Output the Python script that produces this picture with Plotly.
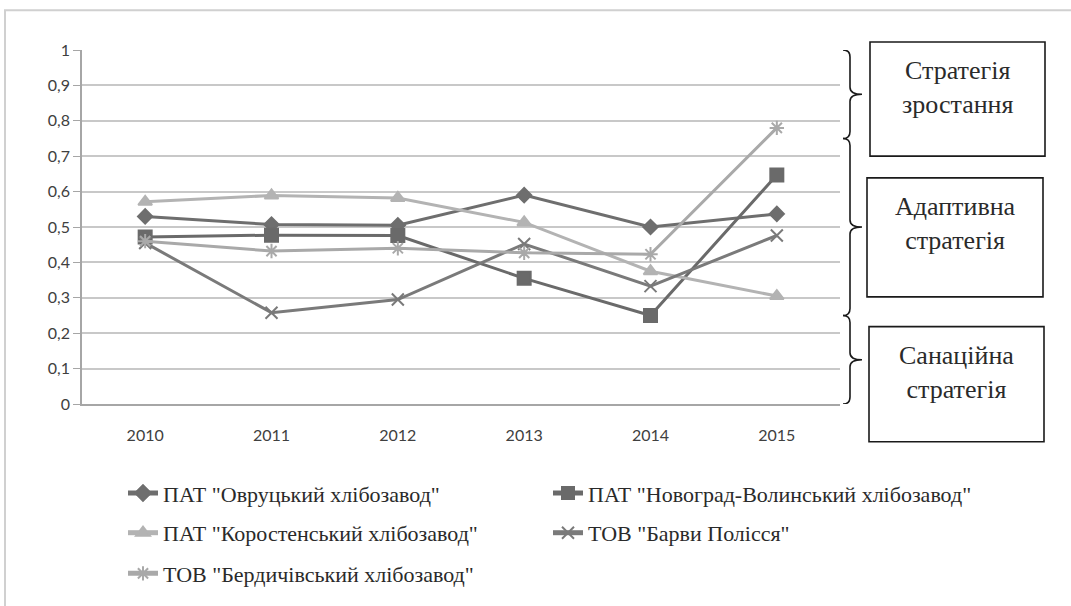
import plotly.graph_objects as go

years = ["2010", "2011", "2012", "2013", "2014", "2015"]

ovruch = [0.53, 0.507, 0.505, 0.59, 0.50, 0.537]
novograd = [0.472, 0.477, 0.476, 0.355, 0.25, 0.647]
korosten = [0.571, 0.589, 0.582, 0.513, 0.375, 0.305]
barvy = [0.455, 0.258, 0.295, 0.452, 0.333, 0.476]
berdychiv = [0.46, 0.432, 0.44, 0.427, 0.423, 0.78]

names = [
    'ПАТ "Овруцький хлібозавод"',
    'ПАТ "Новоград-Волинський хлібозавод"',
    'ПАТ "Коростенський хлібозавод"',
    'ТОВ "Барви Полісся"',
    'ТОВ "Бердичівський хлібозавод"',
]
series = [ovruch, novograd, korosten, barvy, berdychiv]
colors = ["#6e6e6e", "#6a6a6a", "#b3b3b3", "#7a7a7a", "#a9a9a9"]
symbols = ["diamond", "square", "triangle-up", "x-thin-open", "asterisk-open"]
sizes = [11, 13, 12, 12, 12]

strategy_labels = ["Стратегія<br>зростання", "Адаптивна<br>стратегія", "Санаційна<br>стратегія"]
zones = [(1.0, 0.75), (0.75, 0.25), (0.25, 0.0)]

W, H = 1071, 606
L, R, T, B = 82, 231, 50, 199
pw, ph = W - L - R, H - T - B


def px_x(px):
    return (px - L) / pw


def px_y(py):
    return (H - B - py) / ph


SERIF = "Liberation Serif"

# legend slots: two columns, three rows
legend_ids = ["legend", "legend2", "legend3", "legend4", "legend5"]
legend_pos = [(123, 497), (548, 497), (123, 537), (548, 537), (123, 578)]

fig = go.Figure()
for name, vals, c, s, sz, lg in zip(names, series, colors, symbols, sizes, legend_ids):
    fig.add_trace(go.Scatter(
        x=years, y=vals, name=name, mode="lines+markers",
        line=dict(color=c, width=3),
        marker=dict(symbol=s, size=sz, color=c, line=dict(color=c, width=2)),
        legend=lg,
    ))

shapes = []
# outer frame
shapes.append(dict(type="rect", xref="paper", yref="paper",
                   x0=px_x(5), x1=px_x(1080), y0=px_y(10), y1=px_y(620),
                   line=dict(color="#d0d0d0", width=2), layer="below"))

# curly braces marking strategy zones
bx0, bxm, bx1 = px_x(843), px_x(850), px_x(862)
r = 0.02
for top, bot in zones:
    mid = (top + bot) / 2
    path = (f"M {bx0},{top} Q {bxm},{top} {bxm},{top - r} "
            f"L {bxm},{mid + r} Q {bxm},{mid} {bx1},{mid} "
            f"Q {bxm},{mid} {bxm},{mid - r} "
            f"L {bxm},{bot + r} Q {bxm},{bot} {bx0},{bot}")
    shapes.append(dict(type="path", xref="paper", yref="y", path=path,
                       line=dict(color="#1a1a1a", width=1.6)))

# strategy boxes
boxes = [(870, 42, 1045, 157), (867, 179, 1043, 299), (869, 329, 1044, 445)]
annotations = []
for (x0, y0, x1, y1), label in zip(boxes, strategy_labels):
    shapes.append(dict(type="rect", xref="paper", yref="paper",
                       x0=px_x(x0), x1=px_x(x1), y0=px_y(y1), y1=px_y(y0),
                       line=dict(color="#1a1a1a", width=1.6)))
    annotations.append(dict(xref="paper", yref="paper",
                            x=px_x((x0 + x1) / 2), y=px_y(y0 + 12),
                            xanchor="center", yanchor="top", showarrow=False,
                            text=label, align="center",
                            font=dict(family=SERIF, size=26, color="#2a2a2a")))

legend_font = dict(family=SERIF, size=22, color="#2a2a2a")
legend_layout = {}
for lg, (lx, ly) in zip(legend_ids, legend_pos):
    legend_layout[lg] = dict(x=px_x(lx), y=px_y(ly), xanchor="left", yanchor="middle",
                             orientation="h", font=legend_font,
                             bgcolor="rgba(0,0,0,0)", itemsizing="constant")

fig.update_layout(
    width=W, height=H,
    margin=dict(l=L, r=R, t=T, b=B),
    paper_bgcolor="white", plot_bgcolor="white",
    showlegend=True,
    shapes=shapes,
    annotations=annotations,
    xaxis=dict(
        type="category", range=[-0.5, 5.5],
        showgrid=False, showline=True, linecolor="#a6a6a6", linewidth=1.5,
        ticks="", tickfont=dict(family="Lato", size=16, color="#404040"),
        ticklabelstandoff=16,
    ),
    yaxis=dict(
        range=[0, 1], dtick=0.1,
        showgrid=True, gridcolor="#c8c8c8", gridwidth=1.5,
        showline=True, linecolor="#a6a6a6", linewidth=1.5,
        ticks="outside", ticklen=7, tickcolor="#a6a6a6",
        tickfont=dict(family="Lato", size=16, color="#404040"),
        zeroline=False,
    ),
    separators=", ",
    **legend_layout,
)

fig.write_html("out.html")
